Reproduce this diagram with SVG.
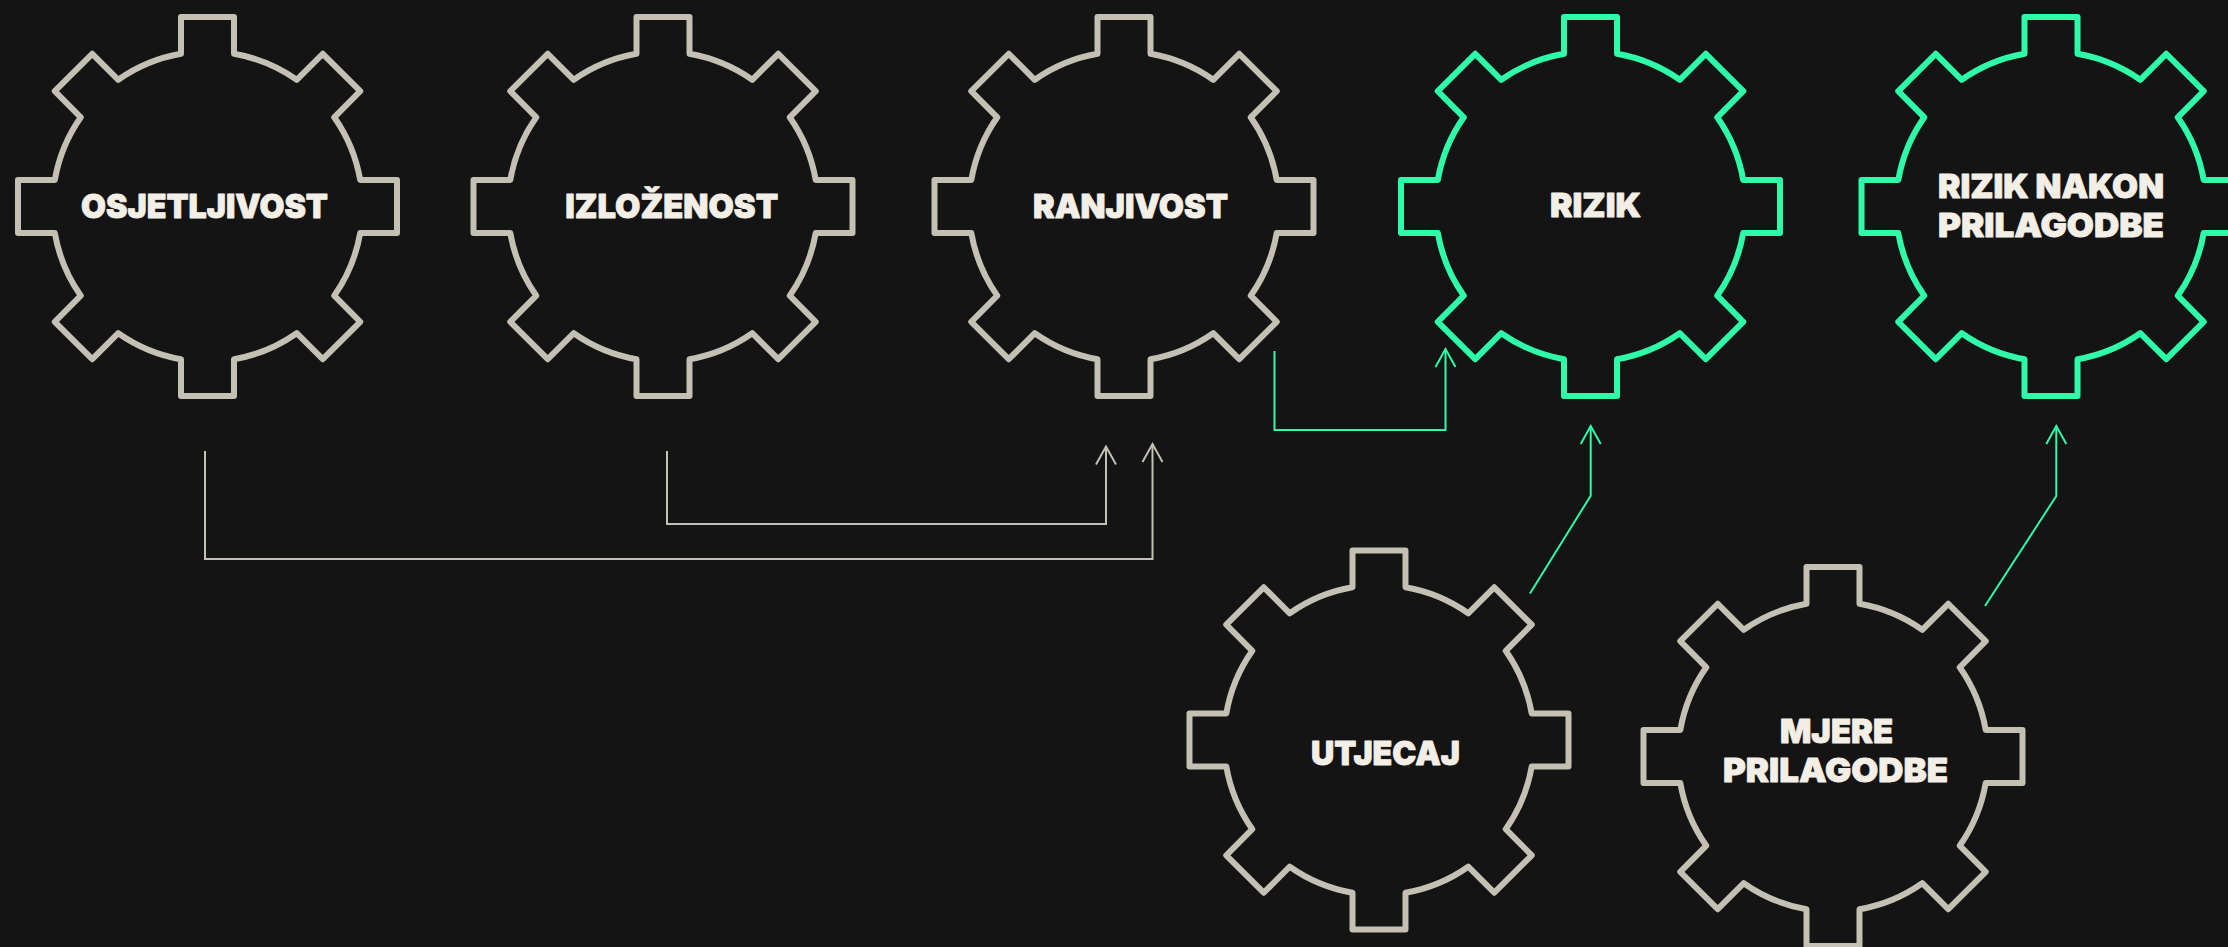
<svg xmlns="http://www.w3.org/2000/svg" xmlns:xlink="http://www.w3.org/1999/xlink" width="2228" height="947" viewBox="0 0 2228 947">
<style>
.gear{fill:none;stroke-width:6;stroke-linejoin:round}
.gray{stroke:#c4c0b4}
.green{stroke:#2efca8}
.lbl{font-family:Inter,"Liberation Sans",sans-serif;font-weight:900;font-size:33px;fill:#f3efe6;stroke:#f3efe6;stroke-width:0.8;stroke-linejoin:round;text-anchor:middle}
.con{fill:none;stroke-width:2}
</style>
<defs>
<path id="gearShape" d="M-26.5,-152.7 L-26.5,-189.5 L26.5,-189.5 L26.5,-152.7 A155,155 0 0 1 89.24,-126.71 L115.26,-152.74 L152.74,-115.26 L126.71,-89.24 A155,155 0 0 1 152.7,-26.5 L189.5,-26.5 L189.5,26.5 L152.7,26.5 A155,155 0 0 1 126.71,89.24 L152.74,115.26 L115.26,152.74 L89.24,126.71 A155,155 0 0 1 26.5,152.7 L26.5,189.5 L-26.5,189.5 L-26.5,152.7 A155,155 0 0 1 -89.24,126.71 L-115.26,152.74 L-152.74,115.26 L-126.71,89.24 A155,155 0 0 1 -152.7,26.5 L-189.5,26.5 L-189.5,-26.5 L-152.7,-26.5 A155,155 0 0 1 -126.71,-89.24 L-152.74,-115.26 L-115.26,-152.74 L-89.24,-126.71 A155,155 0 0 1 -26.5,-152.7 Z"/>
<marker id="arrGray" markerUnits="userSpaceOnUse" markerWidth="40" markerHeight="40" viewBox="-20 -20 40 40" refX="0" refY="0" orient="auto" overflow="visible">
<path d="M-18,-10 L0,0 L-18,10" fill="none" stroke="#c4c0b4" stroke-width="2"/>
</marker>
<marker id="arrGreen" markerUnits="userSpaceOnUse" markerWidth="40" markerHeight="40" viewBox="-20 -20 40 40" refX="0" refY="0" orient="auto" overflow="visible">
<path d="M-18,-10 L0,0 L-18,10" fill="none" stroke="#2efca8" stroke-width="2"/>
</marker>
</defs>
<rect x="0" y="0" width="2228" height="947" fill="#141414"/>

<g id="osjetljivost">
<use href="#gearShape" x="207.5" y="206.5" class="gear gray"/>
<text class="lbl" x="204.5" y="218" textLength="247" lengthAdjust="spacingAndGlyphs">OSJETLJIVOST</text>
</g>
<g id="izlozenost">
<use href="#gearShape" x="663" y="206.5" class="gear gray"/>
<text class="lbl" x="671.7" y="218" textLength="213" lengthAdjust="spacingAndGlyphs">IZLOŽENOST</text>
</g>
<g id="ranjivost">
<use href="#gearShape" x="1124" y="206.5" class="gear gray"/>
<text class="lbl" x="1130.5" y="218" textLength="195" lengthAdjust="spacingAndGlyphs">RANJIVOST</text>
</g>
<g id="rizik">
<use href="#gearShape" x="1590.5" y="206.5" class="gear green"/>
<text class="lbl" x="1595.5" y="217" textLength="91" lengthAdjust="spacingAndGlyphs">RIZIK</text>
</g>
<g id="rizik-nakon-prilagodbe">
<use href="#gearShape" x="2051" y="206.5" class="gear green"/>
<text class="lbl" x="2051" y="198" textLength="226" lengthAdjust="spacingAndGlyphs">RIZIK NAKON</text>
<text class="lbl" x="2051" y="237" textLength="226" lengthAdjust="spacingAndGlyphs">PRILAGODBE</text>
</g>
<g id="utjecaj">
<use href="#gearShape" x="1379" y="740" class="gear gray"/>
<text class="lbl" x="1385.5" y="765" textLength="149" lengthAdjust="spacingAndGlyphs">UTJECAJ</text>
</g>
<g id="mjere-prilagodbe">
<use href="#gearShape" x="1833" y="756.5" class="gear gray"/>
<text class="lbl" x="1836.5" y="743" textLength="113" lengthAdjust="spacingAndGlyphs">MJERE</text>
<text class="lbl" x="1835.5" y="782" textLength="225" lengthAdjust="spacingAndGlyphs">PRILAGODBE</text>
</g>

<g id="connectors">
<path class="con gray" d="M205,451 V559 H1152.5 V444" marker-end="url(#arrGray)"/>
<path class="con gray" d="M667,451 V524 H1106 V446.5" marker-end="url(#arrGray)"/>
<path class="con green" d="M1274.5,351 V430 H1445.5 V349" marker-end="url(#arrGreen)"/>
<path class="con green" d="M1530,593.5 L1590.7,495.7 V426" marker-end="url(#arrGreen)"/>
<path class="con green" d="M1985,606 L2056.3,496 V426" marker-end="url(#arrGreen)"/>
</g>
</svg>
